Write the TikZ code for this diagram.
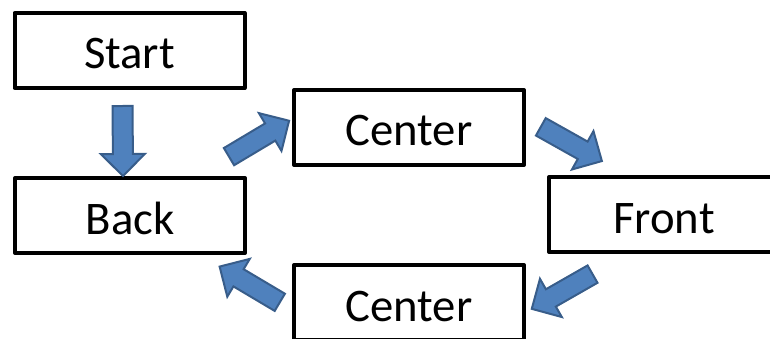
\documentclass[tikz,border=0pt]{standalone}
\usepackage{fontspec}
\setmainfont{Carlito}
\usetikzlibrary{shapes.arrows}

\definecolor{arrowfill}{HTML}{4F81BD}
\definecolor{arrowline}{HTML}{385D8A}

\tikzset{
    box/.style={rectangle, draw=black, line width=4pt, line join=round, fill=white,
        minimum width=230pt, minimum height=75pt, inner sep=0pt,
        text height=42pt, text depth=5pt,
        font=\fontsize{46.7pt}{50pt}\selectfont},
    flow/.style={single arrow, draw=arrowline, fill=arrowfill, line width=2pt,
        minimum height=70pt, inner sep=9pt, single arrow head extend=12pt,
        sloped, allow upside down}
}

\begin{document}
\begin{tikzpicture}[x=1pt, y=-1pt]
        \clip (0,0) rectangle (770,339);
        % Draw nodes
        \node[box] (start) at (129.5,50.5) {Start};
        \node[box] (back) at (130,215.5) {Back};
        \node[box] (ctop) at (409,127.5) {Center};
        \node[box] (front) at (664,214.5) {Front};
        \node[box] (cbot) at (409,302.5) {Center};

        % Draw connections
        \path ([shift={(-7,10)}]start.south) -- node[flow] {} ([shift={(-7,-4)}]back.north);
        \path ([shift={(-24.5,-15.5)}]back.north east) -- node[flow] {} ([shift={(-5,-5.5)}]ctop.west);
        \path ([shift={(8,-4.5)}]ctop.east) -- node[flow] {} ([shift={(53,-15)}]front.north west);
        \path ([shift={(51,17)}]front.south west) -- node[flow] {} ([shift={(9,4.5)}]cbot.east);
        \path ([shift={(-6,3.5)}]cbot.west) -- node[flow] {} ([shift={(-25,13)}]back.south east);
    \end{tikzpicture}
\end{document}
